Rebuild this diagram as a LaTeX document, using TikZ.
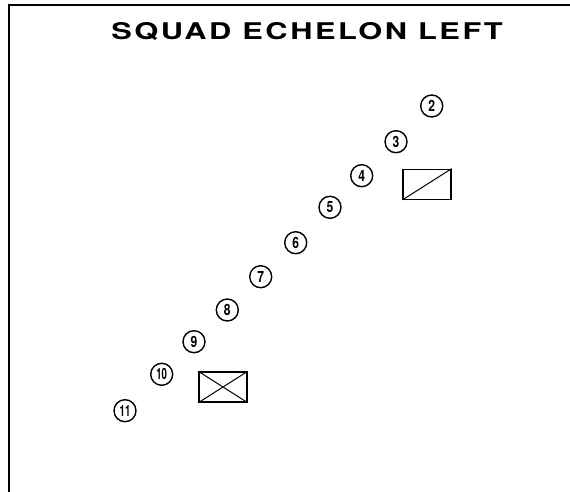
\documentclass[tikz,border=0pt]{standalone}
\usepackage{fontspec}
\setsansfont{TeX Gyre Heros}
\newfontfamily\titlefont[LetterSpace=8]{TeX Gyre Heros}
\begin{document}
\begin{tikzpicture}[x=1pt,y=-1pt,
  soldier/.style={circle,draw,line width=1.4pt,minimum size=22pt,inner sep=0pt,
    font=\sffamily\bfseries\fontsize{15.5}{15.5}\selectfont},
  vehicle/.style={draw,line width=1.3pt,minimum width=48pt,minimum height=30pt,inner sep=0pt},
  frame/.style={line width=2pt}]
\useasboundingbox (0,0) rectangle (570,492);
\draw[frame] (9,492) -- (9,5) -- (570,5);
\node[font=\titlefont\bfseries\fontsize{23}{23}\selectfont,xscale=1.34] (title) at (307,31) {SQUAD ECHELON LEFT};
\node[soldier] (s2) at (431.7,106) {\scalebox{0.78}[1]{2}};
\node[soldier] (s3) at (396,141.7) {\scalebox{0.78}[1]{3}};
\node[soldier] (s4) at (361.7,175.7) {\scalebox{0.78}[1]{4}};
\node[soldier] (s5) at (330,207.3) {\scalebox{0.78}[1]{5}};
\node[soldier] (s6) at (295.7,242.7) {\scalebox{0.78}[1]{6}};
\node[soldier] (s7) at (260.7,276.7) {\scalebox{0.78}[1]{7}};
\node[soldier] (s8) at (227.3,310) {\scalebox{0.78}[1]{8}};
\node[soldier] (s9) at (194,341.7) {\scalebox{0.78}[1]{9}};
\node[soldier] (s10) at (161.7,374.3) {\scalebox{0.62}[1]{10}};
\node[soldier] (s11) at (125,410.7) {\scalebox{0.62}[1]{11}};
\node[vehicle] (v1) at (427,184.3) {};
\draw[line width=1pt] (v1.south west) -- (v1.north east);
\node[vehicle] (v2) at (223,387) {};
\draw[line width=1pt] (v2.south west) -- (v2.north east) (v2.north west) -- (v2.south east);
\end{tikzpicture}
\end{document}
